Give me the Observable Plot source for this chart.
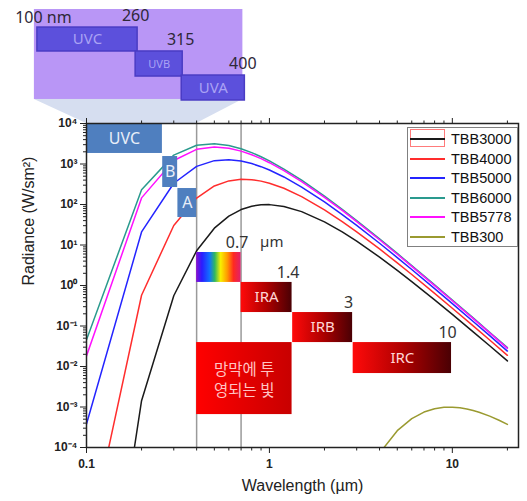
<!DOCTYPE html>
<html><head><meta charset="utf-8">
<script src="https://cdn.jsdelivr.net/npm/d3@7"></script>
<script src="https://cdn.jsdelivr.net/npm/@observablehq/plot@0.6"></script>
<style>
body{margin:0;background:#fff;}
#wrap{position:relative;width:527px;height:501px;overflow:hidden;}
#legend{position:absolute;left:407px;top:127px;width:111px;height:120px;border:1px solid #808080;background:#fff;box-sizing:border-box;font-family:"Liberation Sans",Arial,sans-serif;font-size:14.5px;color:#111;}
#legend .row{position:absolute;left:0;height:18px;width:108px;}
#legend .ln{position:absolute;left:2px;width:35px;top:8px;height:0;border-top:2px solid;}
#legend .tx{position:absolute;left:43px;top:0;line-height:18px;}
#legend .bx{position:absolute;left:2px;top:-1px;width:35px;height:18px;border:1px solid #ff7b7b;box-sizing:border-box;}
</style></head><body><div id="wrap"></div>
<script>
// ---- data ----
const seriesNames = ["TBB3000","TBB4000","TBB5000","TBB6000","TBB5778","TBB300"];
const seriesColors = ["#1a1a1a","#ff2d2d","#2424ff","#2a9a8e","#ff10ff","#9a9a30"];
const wavelengths = [0.1,0.2,0.3,0.4,0.5,0.6,0.7,0.8,0.9,1.0,1.2,1.5,2,2.5,3,4,5,6,8,10,13,16,20];
const tbb3000 = [1.77e-12,1.434e-3,0.559,7.22,26.0,51.7,75.0,90.8,98.3,99.3,89.6,66.8,37.2,21.0,12.42,5.02,2.368,1.251,0.443,0.1935,0.0719,0.0325,0.01373];
const tbb4000 = [2.85e-7,0.575,30.4,144.6,286.5,382.4,418.3,409.8,377.6,335.6,251.4,156.8,73.8,37.9,21.16,7.98,3.619,1.865,0.640,0.2751,0.1006,0.04506,0.01889];
const tbb5000 = [3.79e-4,20.99,334.6,874.3,1210.6,1276.4,1181.0,1024.2,859.5,710.1,478.5,269.9,115.8,56.4,30.45,11.04,4.898,2.489,0.840,0.3572,0.1295,0.05764,0.02405];
const tbb6000 = [0.0459,231.0,1655.6,2904,3176,2867,2382,1909,1510,1190.8,750.6,397.4,160.7,75.8,40.04,14.16,6.193,3.117,1.040,0.4395,0.1584,0.07025,0.02922];
const tbb5778 = [0.01826,145.7,1217.9,2306,2637,2453,2080,1692,1353,1076.6,687.2,368.2,150.5,71.4,37.89,13.47,5.905,2.977,0.995,0.4212,0.1519,0.06745,0.02807];
const wl300 = [3,4,5,6,7,8,9,10,11,12,13,14,16,18,20];
const tbb300 = [5.59e-6,7.22e-5,2.602e-4,5.174e-4,7.504e-4,9.075e-4,9.83e-4,9.925e-4,9.572e-4,8.96e-4,8.222e-4,7.445e-4,5.967e-4,4.718e-4,3.721e-4];

// axis ticks
const xMajor = [0.1,1,10];
const xMinor = [0.2,0.3,0.4,0.5,0.6,0.7,0.8,0.9,2,3,4,5,6,7,8,9,20];
const yMajor = [1e-4,1e-3,1e-2,1e-1,1,10,100,1000,10000];
const yMinor = yMajor.slice(0,-1).flatMap(d => [2,3,4,5,6,7,8,9].map(k => k*d));

// band boxes on the chart (wavelength µm / radiance extents)
const uvNames = ["UVC","B","A"];
const uvX1 = [0.1,0.261,0.316];
const uvX2 = [0.26,0.315,0.4];
const uvY1 = [1820,263,47.7];
const uvY2 = [1e4,1530,248];

const irNames = ["IRA","IRB","IRC"];
const irEdgeLabels = ["1.4","3","10"];
const irX1 = [0.7,1.34,2.87];
const irX2 = [1.33,2.85,9.9];
const irY1 = [0.215,0.039,0.0067];
const irY2 = [1.19,0.215,0.039];

const visX = [0.4,0.7];
const visY = [1.19,6.53];
const retinaX = [0.4,1.33];
const retinaY = [6.5e-4,0.039];
const retinaText = "망막에 투\n영되는 빛";
const markerLines = [0.4,0.7];

// zoomed UV inset (drawn above the frame, in the same chart coordinates)
const insetNames = ["UVC","UVB","UVA"];
const insetEdgeLabels = ["100 nm","260","315","400"];
const insetX1 = [0.0539,0.1856,0.3316];
const insetX2 = [0.1903,0.3357,0.734];
const insetY1 = [6.0e5,1.445e5,3.70e4];
const insetY2 = [2.34e6,6.0e5,1.53e5];
const insetBandX = [0.0519,0.716];
const insetBandY = [3.92e4,6.53e6];

// ---- build tables ----
const curveRows = [];
const hot = [tbb3000,tbb4000,tbb5000,tbb6000,tbb5778];
hot.forEach((vals,s) => wavelengths.forEach((w,i) => curveRows.push({name: seriesNames[s], wl: w, r: vals[i]})));
wl300.forEach((w,i) => curveRows.push({name: "TBB300", wl: w, r: tbb300[i]}));

const uvBoxes = uvNames.map((n,i) => ({n, x1: uvX1[i], x2: uvX2[i], y1: uvY1[i], y2: uvY2[i]}));
const irBoxes = irNames.map((n,i) => ({n, e: irEdgeLabels[i], x1: irX1[i], x2: irX2[i], y1: irY1[i], y2: irY2[i]}));
const insetBoxes = insetNames.map((n,i) => ({n, x1: insetX1[i], x2: insetX2[i], y1: insetY1[i], y2: insetY2[i]}));
const insetFirstLabel = [{t: insetEdgeLabels[0], x: insetX1[0], y: insetY2[0]}];
const insetEdgeRows = [1,2,3].map(i => ({t: insetEdgeLabels[i], x: insetX2[i-1], y: insetY2[i-1]}));
const trapezoid = [
  {y: 1e4, x1: uvX1[0], x2: uvX2[2]},
  {y: insetBandY[0], x1: insetBandX[0], x2: insetBandX[1]}
];
const gm = (a,b) => Math.sqrt(a*b);
const sup = {"-":"⁻","0":"⁰","1":"¹","2":"²","3":"³","4":"⁴","5":"⁵"};
const supFmt = d => "10" + String(Math.round(Math.log10(d))).split("").map(c => sup[c]).join("");
const boxFont = "Noto Sans, Open Sans, sans-serif";

const chart = Plot.plot({
  width: 527, height: 501,
  marginLeft: 86, marginRight: 9, marginTop: 123, marginBottom: 54,
  style: {fontFamily: "Liberation Sans, Arial, sans-serif", fontSize: "12px", color: "#222", background: "transparent", overflow: "visible"},
  x: {type: "log", domain: [0.1, 23]},
  y: {type: "log", domain: [1e-4, 1e4]},
  color: {domain: seriesNames, range: seriesColors},
  marks: [
    // inset
    Plot.areaX(trapezoid, {y: "y", x1: "x1", x2: "x2", fill: "#d6def0"}),
    Plot.rect([0], {x1: insetBandX[0], x2: insetBandX[1], y1: insetBandY[0], y2: insetBandY[1], fill: "#b996f6"}),
    Plot.rect(insetBoxes, {x1: "x1", x2: "x2", y1: "y1", y2: "y2", fill: "#5c50dc", stroke: "#4a3cc4", strokeWidth: 1.5}),
    Plot.text(insetBoxes.filter(d => d.n !== "UVB"), {x: d => gm(d.x1,d.x2), y: d => gm(d.y1,d.y2), text: "n", fill: "#aaa2f4", fontSize: 15, fontFamily: boxFont}),
    Plot.text(insetBoxes.filter(d => d.n === "UVB"), {x: d => gm(d.x1,d.x2), y: d => gm(d.y1,d.y2), text: "n", fill: "#aaa2f4", fontSize: 11, fontFamily: boxFont}),
    Plot.text(insetFirstLabel, {x: "x", y: "y", text: "t", dx: 6, dy: -10, fill: "#2e2838", fontSize: 16, fontFamily: boxFont}),
    Plot.text(insetEdgeRows, {x: "x", y: "y", text: "t", dx: -2, dy: -12, fill: "#2e2838", fontSize: 16, fontFamily: boxFont}),
    // marker lines & curves
    Plot.ruleX(markerLines, {stroke: "#9a9a9a", strokeWidth: 1.5}),
    Plot.line(curveRows, {x: "wl", y: "r", z: "name", stroke: "name", strokeWidth: 1.5, clip: true}),
    // UV boxes
    Plot.rect(uvBoxes, {x1: "x1", x2: "x2", y1: "y1", y2: "y2", fill: "#4f7fbf"}),
    Plot.text(uvBoxes, {x: d => gm(d.x1,d.x2), y: d => gm(d.y1,d.y2), text: "n", fill: "#e8eef8", fontSize: 16, fontFamily: boxFont}),
    // visible spectrum
    Plot.rect([0], {x1: visX[0], x2: visX[1], y1: visY[0], y2: visY[1], fill: "url(#rainbow)"}),
    Plot.text(["0.7"], {x: visX[1], y: visY[1], dx: -4, dy: -10, fill: "#333", fontSize: 16, fontFamily: boxFont}),
    Plot.text(["µm"], {x: visX[1], y: visY[1], dx: 19, dy: -10, textAnchor: "start", fill: "#333", fontSize: 15, fontFamily: boxFont}),
    // IR boxes
    Plot.rect(irBoxes, {x1: "x1", x2: "x2", y1: "y1", y2: "y2", fill: "url(#irgrad)"}),
    Plot.text(irBoxes, {x: d => gm(d.x1,d.x2), y: d => gm(d.y1,d.y2), text: "n", fill: "#ffd6d6", fontSize: 15, fontFamily: boxFont}),
    Plot.text(irBoxes, {x: "x2", y: "y2", text: "e", dx: -4, dy: -10, fill: "#333", fontSize: 16, fontFamily: boxFont}),
    // retina box
    Plot.rect([0], {x1: retinaX[0], x2: retinaX[1], y1: retinaY[0], y2: retinaY[1], fill: "url(#retina)"}),
    Plot.text([retinaText], {x: gm(retinaX[0],retinaX[1]), y: gm(retinaY[0],retinaY[1]), fill: "#ffc4c4", fontSize: 15.5, lineHeight: 1.35, fontFamily: "Noto Sans CJK KR, sans-serif"}),
    // frame & axes
    Plot.frame({stroke: "#222", strokeWidth: 1.5}),
    Plot.axisX(xMajor, {anchor: "bottom", tickSize: 6, tickPadding: 6, tickFormat: d => String(d), label: null, fontSize: 12, fontWeight: "bold"}),
    Plot.axisX(xMinor, {anchor: "bottom", tickSize: 3.5, tickFormat: () => "", label: null}),
    Plot.axisX(xMajor, {anchor: "top", tickSize: 6, tickFormat: () => "", label: null}),
    Plot.axisX(xMinor, {anchor: "top", tickSize: 3.5, tickFormat: () => "", label: null}),
    Plot.axisY(yMajor, {anchor: "left", tickSize: 6, tickPadding: 3, tickFormat: supFmt, label: null, fontSize: 12, fontWeight: "bold"}),
    Plot.axisY(yMinor, {anchor: "left", tickSize: 3, tickFormat: () => "", label: null}),
    Plot.text(["Wavelength (µm)"], {frameAnchor: "bottom", dy: 43, fontSize: 16, fill: "#222"}),
    Plot.text(["Radiance (W/sm²)"], {frameAnchor: "left", dx: -58, rotate: -90, fontSize: 16, fill: "#222"})
  ]
});

// gradients
const defs = d3.select(chart).insert("defs", ":first-child");
function grad(id, stops) {
  const g = defs.append("linearGradient").attr("id", id).attr("x1", "0").attr("x2", "1").attr("y1", "0").attr("y2", "0");
  stops.forEach(([o,c]) => g.append("stop").attr("offset", o).attr("stop-color", c));
}
grad("rainbow", [[0,"#8a10d0"],[0.13,"#2a1cff"],[0.3,"#1070ff"],[0.42,"#30b860"],[0.55,"#f8f000"],[0.7,"#ff9a00"],[0.84,"#ff2a20"],[1,"#e0206c"]]);
grad("irgrad", [[0,"#ff0a0a"],[0.5,"#b00000"],[1,"#4a0004"]]);
grad("retina", [[0,"#ff0000"],[1,"#c80000"]]);

const wrap = document.getElementById("wrap");
wrap.appendChild(chart);

// legend (inside the frame, top-right)
const legend = document.createElement("div");
legend.id = "legend";
seriesNames.forEach((n,i) => {
  const row = document.createElement("div");
  row.className = "row";
  row.style.top = (2 + i*19.6) + "px";
  row.innerHTML = (i === 0 ? '<div class="bx"></div>' : '') +
    '<div class="ln" style="border-color:' + seriesColors[i] + '"></div><div class="tx">' + n + '</div>';
  legend.appendChild(row);
});
wrap.appendChild(legend);
</script></body></html>
